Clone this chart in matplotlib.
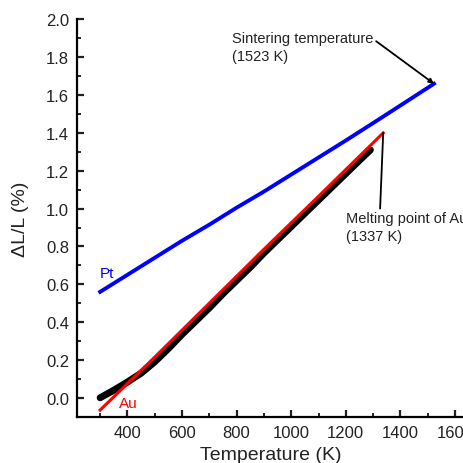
import matplotlib
matplotlib.use("Agg")
import matplotlib.pyplot as plt
from matplotlib.ticker import MultipleLocator

plt.rcParams['font.family'] = ['Liberation Sans', 'DejaVu Sans']

# Pt reference curve (K, %)
pt_T = [300, 400, 500, 600, 700, 800, 900, 1000, 1100, 1200, 1300, 1400, 1523]
pt_dL = [0.56, 0.65, 0.74, 0.83, 0.915, 1.005, 1.09, 1.18, 1.27, 1.36, 1.452, 1.545, 1.66]

# Au literature line up to the melting point
au_T = [300, 500, 700, 900, 1100, 1337]
au_dL = [-0.065, 0.215, 0.50, 0.785, 1.065, 1.40]

# measured sample
meas_T = [300, 350, 400, 450, 500, 550, 600, 650, 700, 750, 800, 850, 900,
          950, 1000, 1050, 1100, 1150, 1200, 1250, 1290]
meas_dL = [0.00, 0.04, 0.083, 0.13, 0.19, 0.26, 0.335, 0.405, 0.475, 0.55,
           0.62, 0.69, 0.765, 0.835, 0.905, 0.975, 1.045, 1.115, 1.185,
           1.255, 1.31]

xticks = [400, 600, 800, 1000, 1200, 1400, 1600]
yticks = [0.0, 0.2, 0.4, 0.6, 0.8, 1.0, 1.2, 1.4, 1.6, 1.8, 2.0]

fig = plt.figure(figsize=(4.64, 4.64), dpi=100)
ax = fig.add_axes([0.167, 0.0998, 0.833, 0.8562])

ax.plot(meas_T, meas_dL, color='black', lw=5, solid_capstyle='round')
ax.plot(au_T, au_dL, color='red', lw=2.2)
ax.plot(pt_T, pt_dL, color='blue', lw=2.8)

ax.set_xlim(217, 1633)
ax.set_ylim(-0.1, 2.0)
ax.set_xticks(xticks)
ax.set_xticklabels([str(t) for t in xticks])
ax.set_yticks(yticks)
ax.set_yticklabels([f"{v:.1f}" for v in yticks])
ax.xaxis.set_minor_locator(MultipleLocator(100))
ax.yaxis.set_minor_locator(MultipleLocator(0.1))

for s in ['top', 'right']:
    ax.spines[s].set_visible(False)
for s in ['left', 'bottom']:
    ax.spines[s].set_linewidth(1.6)

ax.tick_params(which='major', direction='in', length=5, width=1.6,
               labelsize=12, pad=6, colors='#222222')
ax.tick_params(which='minor', direction='in', length=3, width=1.2)

ax.set_xlabel('Temperature (K)', fontsize=14, labelpad=4, color='#222222')
ax.set_ylabel('ΔL/L (%)', fontsize=14, labelpad=12, color='#222222')

ax.text(300, 0.66, 'Pt', color='blue', fontsize=11, va='center')
ax.text(368, -0.027, 'Au', color='red', fontsize=11, va='center')

# figure-pixel coordinates are measured from the bottom
ax.annotate('Sintering temperature\n(1523 K)', xy=(pt_T[-1], pt_dL[-1]),
            xytext=(232, 464 - 48), textcoords='figure pixels',
            fontsize=10.5, color='#222222', va='center', ha='left',
            linespacing=1.3, annotation_clip=False,
            arrowprops=dict(arrowstyle='-|>', mutation_scale=7, lw=1.3,
                            color='black', shrinkA=0, shrinkB=0,
                            relpos=(1.0, 0.75)))

ax.annotate('Melting point of Au\n(1337 K)', xy=(au_T[-1], au_dL[-1]),
            xytext=(346, 464 - 228), textcoords='figure pixels',
            fontsize=10.5, color='#222222', va='center', ha='left',
            linespacing=1.3, annotation_clip=False,
            arrowprops=dict(arrowstyle='-', lw=1.3, color='black',
                            shrinkA=0, shrinkB=0, relpos=(0.28, 1.0)))

fig.savefig('out.png', dpi=100)
